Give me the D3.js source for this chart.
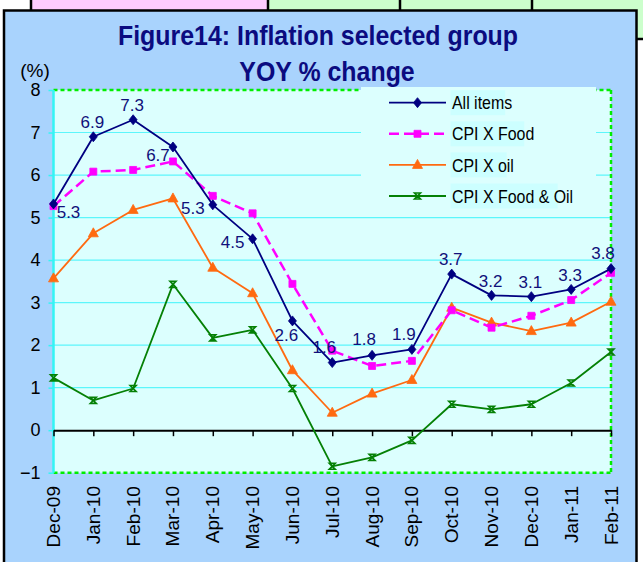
<!DOCTYPE html>
<html><head><meta charset="utf-8">
<script src="https://cdn.jsdelivr.net/npm/d3@7"></script>
<style>
body{margin:0;background:#fff;}
svg{display:block;font-family:"Liberation Sans",Arial,Helvetica,sans-serif;}
</style>
</head><body>
<svg id="c" width="643" height="562"></svg>
<script>
// ---------------- data ----------------
const months = ['Dec-09','Jan-10','Feb-10','Mar-10','Apr-10','May-10','Jun-10','Jul-10','Aug-10','Sep-10','Oct-10','Nov-10','Dec-10','Jan-11','Feb-11'];
const allItems    = [5.32, 6.9, 7.3, 6.66, 5.3, 4.5, 2.57, 1.59, 1.76, 1.9, 3.67, 3.17, 3.14, 3.31, 3.8];
const cpiXFood    = [5.27, 6.08, 6.12, 6.32, 5.51, 5.1, 3.44, 1.87, 1.51, 1.63, 2.82, 2.41, 2.69, 3.06, 3.7];
const cpiXOil     = [3.57, 4.63, 5.18, 5.45, 3.82, 3.22, 1.41, 0.41, 0.86, 1.18, 2.88, 2.53, 2.33, 2.53, 3.02];
const cpiXFoodOil = [1.23, 0.70, 0.98, 3.43, 2.17, 2.36, 0.98, -0.85, -0.64, -0.24, 0.61, 0.49, 0.61, 1.11, 1.84];
const seriesNames = ['All items', 'CPI X Food', 'CPI X oil', 'CPI X Food & Oil'];
const yTicks = [-1, 0, 1, 2, 3, 4, 5, 6, 7, 8];
const labelPlacement = ['br','a','a','bl','l','l','b','al','al','al','a','a','a','a','al'];
const titleLines = ['Figure14: Inflation selected group', 'YOY % change'];
const yUnit = '(%)';

// ---------------- layout ----------------
const svg = d3.select('#c');
const plot = {left: 53.5, right: 611, top: 90, bottom: 472.7};
const x = d3.scalePoint().domain(months).range([plot.left, plot.right]).padding(0);
const y = d3.scaleLinear().domain([-1, 8]).range([plot.bottom, plot.top]);

function condense(sel, f) {
  sel.each(function () {
    const L = this.getComputedTextLength();
    this.setAttribute('textLength', L * f);
    this.setAttribute('lengthAdjust', 'spacingAndGlyphs');
  });
}

// spreadsheet cells visible above the chart
const cells = [[31, 268, '#ffccff'], [268, 400, '#ccffcc'], [400, 532, '#ccffcc'], [532, 645, '#ccffcc']];
svg.selectAll('rect.cell').data(cells).join('rect')
  .attr('x', d => d[0]).attr('y', -2).attr('width', d => d[1] - d[0]).attr('height', 14)
  .attr('fill', d => d[2]);
svg.append('rect').attr('x', 636).attr('y', 0).attr('width', 8).attr('height', 39).attr('fill', '#ccffcc');
svg.selectAll('line.cellsep').data([31, 268, 400, 532]).join('line')
  .attr('x1', d => d).attr('x2', d => d).attr('y1', 0).attr('y2', 11)
  .attr('stroke', '#000').attr('stroke-width', 2.5);
svg.append('line').attr('x1', 636).attr('x2', 643).attr('y1', 39).attr('y2', 39)
  .attr('stroke', '#000').attr('stroke-width', 2.5);

// chart frame
svg.append('rect').attr('x', 4).attr('y', 10.5).attr('width', 632.5).attr('height', 570)
  .attr('fill', '#a9d3fd').attr('stroke', '#000').attr('stroke-width', 2.5);

// plot area
svg.append('rect').attr('x', plot.left).attr('y', plot.top)
  .attr('width', plot.right - plot.left).attr('height', plot.bottom - plot.top)
  .attr('fill', '#dcfffe');

// gridlines
svg.selectAll('line.grid').data(yTicks.filter(v => v > -1 && v < 8 && v !== 0)).join('line')
  .attr('x1', plot.left).attr('x2', plot.right)
  .attr('y1', d => y(d)).attr('y2', d => y(d))
  .attr('stroke', '#5cf6fb').attr('stroke-width', 1.2);

// plot border: dashed green top/right/bottom, cyan left
const dash = {stroke: '#00ee00', 'stroke-width': 2.5, 'stroke-dasharray': '4,3'};
function dl(x1, y1, x2, y2, attrs) {
  const l = svg.append('line').attr('x1', x1).attr('y1', y1).attr('x2', x2).attr('y2', y2);
  Object.entries(attrs).forEach(([k, v]) => l.attr(k, v));
  return l;
}
dl(plot.left, plot.top, plot.right, plot.top, dash);
dl(plot.right, plot.top, plot.right, plot.bottom, dash);
dl(plot.left, plot.bottom, plot.right, plot.bottom, dash);
dl(plot.left, plot.top, plot.left, plot.bottom, {stroke: '#33f5f5', 'stroke-width': 2.5});

// y axis (cyan ticks, black labels)
const yAxis = d3.axisLeft(y).tickValues(yTicks).tickSize(5).tickPadding(8).tickFormat(d3.format('d'));
const gy = svg.append('g').attr('transform', `translate(${plot.left},0)`).call(yAxis);
gy.select('.domain').remove();
gy.selectAll('.tick line').attr('stroke', '#33f5f5').attr('stroke-width', 1.5);
gy.selectAll('.tick text').attr('font-size', 18).attr('fill', '#000').attr('font-family', null);

svg.append('text').attr('x', 35).attr('y', 77).attr('text-anchor', 'middle')
  .attr('font-size', 19).attr('fill', '#000').text(yUnit);

// x axis at zero line
const xAxis = d3.axisBottom(x).tickSize(6).tickSizeOuter(0).tickPadding(0);
const gx = svg.append('g').attr('transform', `translate(0,${y(0)})`).call(xAxis);
gx.select('.domain').attr('stroke', '#000').attr('stroke-width', 2);
gx.selectAll('.tick line').attr('stroke', '#000').attr('stroke-width', 1.5);
gx.selectAll('.tick text').remove();

// x category labels at bottom, rotated
const xl = svg.append('g').selectAll('text').data(months).join('text')
  .attr('transform', d => `translate(${x(d) + 6.5},486) rotate(-90)`)
  .attr('text-anchor', 'end').attr('font-size', 18).attr('fill', '#000').text(d => d);
condense(xl, 1.06);

// legend box (covers border & gridlines)
svg.append('rect').attr('x', 361).attr('y', 87).attr('width', 235).attr('height', 125).attr('fill', '#dcfffe');

// series
const series = [
  {name: seriesNames[0], values: allItems, color: '#000080', width: 1.8, dash: null, marker: 'diamond'},
  {name: seriesNames[1], values: cpiXFood, color: '#ff00ff', width: 2.5, dash: '10,5', marker: 'square'},
  {name: seriesNames[2], values: cpiXOil, color: '#ff6a10', width: 1.8, dash: null, marker: 'triangle'},
  {name: seriesNames[3], values: cpiXFoodOil, color: '#058005', width: 1.8, dash: null, marker: 'x'}
];
const markerPath = {
  diamond: 'M0,-5L4,0L0,5L-4,0Z',
  square: 'M-3.5,-3.5H3.5V3.5H-3.5Z',
  triangle: 'M0,-5.5L5,3.5H-5Z',
  x: 'M-3,-3H3L-3,3H3Z'
};
const line = d3.line().x((d, i) => x(months[i])).y(d => y(d));
// draw in reverse so All items is on top
series.slice().reverse().forEach(s => {
  svg.append('path').datum(s.values).attr('d', line)
    .attr('fill', 'none').attr('stroke', s.color).attr('stroke-width', s.width)
    .attr('stroke-dasharray', s.dash).attr('stroke-linejoin', 'round');
  svg.append('g').selectAll('path').data(s.values).join('path')
    .attr('transform', (d, i) => `translate(${x(months[i])},${y(d)})`)
    .attr('d', markerPath[s.marker])
    .attr('fill', s.marker === 'x' ? 'none' : s.color)
    .attr('stroke', s.color).attr('stroke-width', s.marker === 'x' ? 1.6 : 0.8);
});

// data labels for All items
const offs = {a: [-1, -15], al: [-8, -16], br: [15, 8], bl: [-15, 8], l: [-20, 3], b: [-6, 14]};
const fmt = d3.format('.1f');
svg.append('g').selectAll('text').data(allItems).join('text')
  .attr('x', (d, i) => x(months[i]) + offs[labelPlacement[i]][0])
  .attr('y', (d, i) => y(d) + offs[labelPlacement[i]][1])
  .attr('dy', '0.36em').attr('text-anchor', 'middle')
  .attr('font-size', 17).attr('fill', '#10107a').text(d => fmt(d));

// legend
const lg = svg.append('g');
series.forEach((s, i) => {
  const cy = 102.7 + i * 31.1;
  lg.append('line').attr('x1', 389).attr('x2', 446).attr('y1', cy).attr('y2', cy)
    .attr('stroke', s.color).attr('stroke-width', s.width).attr('stroke-dasharray', s.dash);
  lg.append('path').attr('transform', `translate(417.5,${cy})`).attr('d', markerPath[s.marker])
    .attr('fill', s.marker === 'x' ? 'none' : s.color).attr('stroke', s.color)
    .attr('stroke-width', s.marker === 'x' ? 1.6 : 0.8);
  const bg = lg.append('rect').attr('fill', '#ccffff');
  const t = lg.append('text').attr('x', 452).attr('y', cy).attr('dy', '0.36em')
    .attr('font-size', 18.5).attr('fill', '#000').text(s.name);
  condense(t, 0.86);
  const L = t.node().getComputedTextLength() * 0.86;
  bg.attr('x', 450.5).attr('y', cy - 12.5).attr('width', L + 3).attr('height', 25);
});

// title
const tt = svg.append('g').selectAll('text').data(titleLines).join('text')
  .attr('x', (d, i) => i === 0 ? 318 : 327).attr('y', (d, i) => 45 + i * 36)
  .attr('text-anchor', 'middle').attr('font-size', 28).attr('font-weight', 'bold')
  .attr('fill', '#0b0b80').text(d => d);
condense(tt, 0.89);
</script>
</body></html>
